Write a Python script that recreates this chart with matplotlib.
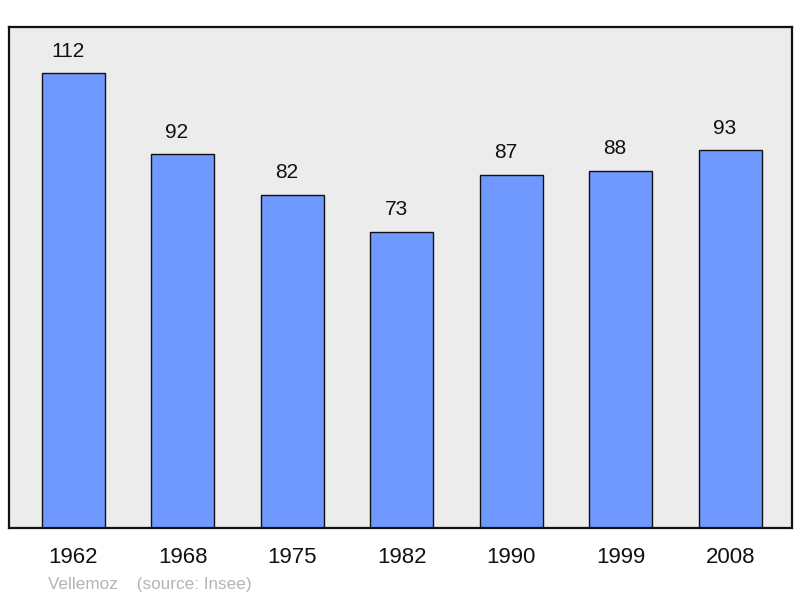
import matplotlib
matplotlib.use("Agg")
import matplotlib.pyplot as plt

# données de population
years = ["1962", "1968", "1975", "1982", "1990", "1999", "2008"]
population = [112, 92, 82, 73, 87, 88, 93]

plt.rcParams['font.family'] = ['Liberation Sans', 'DejaVu Sans']

fig = plt.figure(figsize=(8.0, 5.98), dpi=100)
ax = fig.add_axes([9 / 800, 70 / 598, 783 / 800, 501 / 598])
ax.set_facecolor('#ececec')

x = list(range(len(years)))
bars = ax.bar(x, population, width=0.575, color='#7099ff',
              edgecolor='#111111', linewidth=1.0, zorder=2)

# étiquettes de valeur, légèrement décalées à gauche comme l'original
for xi, v in zip(x, population):
    ax.annotate(str(v), (xi, v), xytext=(-4, 16), textcoords='offset points',
                ha='center', va='center', fontsize=15, color='#111111')

ax.set_xlim(-0.585, 6.565)
ax.set_ylim(0, 123.4)
ax.set_xticks(x)
ax.set_xticklabels(years, fontsize=16, color='#111111')
ax.tick_params(axis='x', length=0, pad=14)
ax.set_yticks([])
for s in ax.spines.values():
    s.set_linewidth(1.6)
    s.set_color('#111111')

fig.text(48 / 800, 1 - 584 / 598, "Vellemoz    (source: Insee)",
         fontsize=12.3, color='#b4b4b4', ha='left', va='center')

fig.savefig("out.png", dpi=100)
